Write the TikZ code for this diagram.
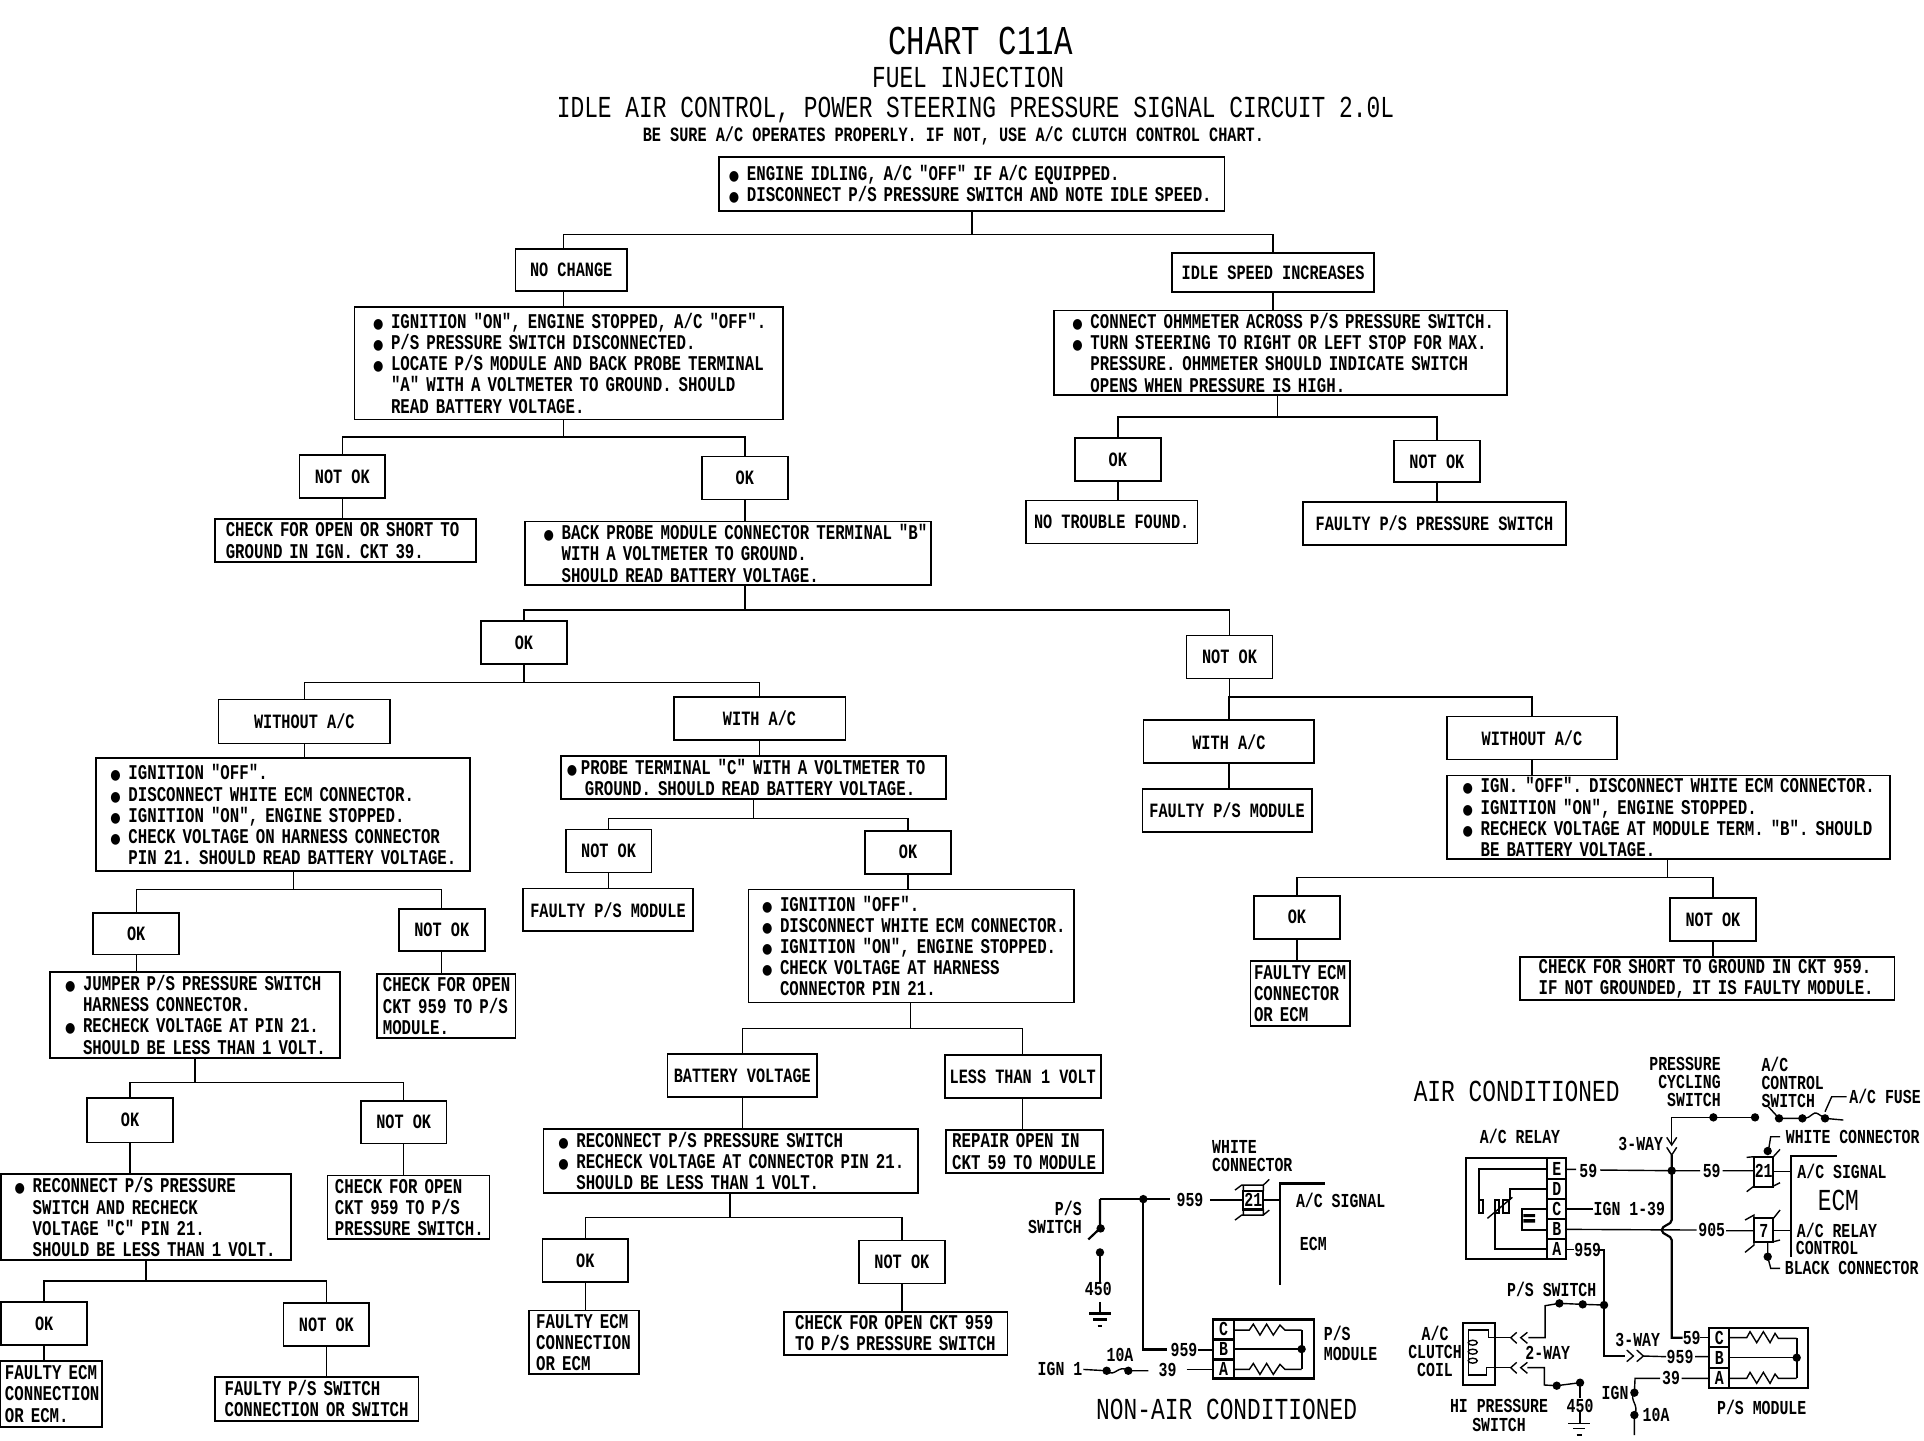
\documentclass[tikz,border=0pt]{standalone}
\usepackage{fontspec}
\setmainfont{Liberation Mono}
\newfontfamily\chartfont[FakeStretch=0.75]{Liberation Mono}
\newfontfamily\bulletfont[FakeStretch=0.85]{DejaVu Sans}
\newcommand{\bodyf}{\chartfont\bfseries\frenchspacing\fontsize{21}{21.2}\selectfont}
\newcommand{\shortf}{\chartfont\bfseries\frenchspacing\fontsize{20.3}{21.2}\selectfont}
\newcommand{\labf}{\chartfont\bfseries\frenchspacing\fontsize{19.8}{21.5}\selectfont}
\newcommand{\headf}{\chartfont\frenchspacing\fontsize{30.5}{32}\selectfont}
\newcommand{\bigf}{\chartfont\frenchspacing\fontsize{41}{44}\selectfont}
\newcommand{\cl}{\hspace*{18pt}}
\newcommand{\bu}{\makebox[18pt][l]{\bulletfont\fontsize{14}{14}\selectfont ●}}
\tikzset{
  chartbox/.style={draw=black,line width=1.7pt,rectangle,inner sep=0pt,font=\bodyf,align=left},
  centerbox/.style={draw=black,line width=1.7pt,rectangle,inner sep=0pt,font=\shortf,align=center},
  wire/.style={draw=black,line width=1.4pt},
  heavy/.style={draw=black,line width=2.2pt},
  lab/.style={inner sep=0pt,font=\labf,align=left},
  labc/.style={inner sep=0pt,font=\labf,align=center},
  labr/.style={inner sep=0pt,font=\labf,align=right},
  dot/.style={fill=black,draw=none}
}
\newcommand{\bx}[7]{%
  \pgfmathsetmacro\bw{(#4-#2)*1.227}%
  \pgfmathsetmacro\bh{(#5-#3)*1.227}%
  \pgfmathsetmacro\bs{(#6-#2)*1.227}%
  \node[chartbox,minimum width=\bw pt,minimum height=\bh pt,text width=\bw pt] (#1) at ({(#2+#4)/2},{(#3+#5)/2}) {\leftskip=\bs pt\relax #7\par};}
\newcommand{\cbx}[6]{%
  \pgfmathsetmacro\bw{(#4-#2)*1.227}%
  \pgfmathsetmacro\bh{(#5-#3)*1.227}%
  \node[centerbox,minimum width=\bw pt,minimum height=\bh pt] (#1) at ({(#2+#4)/2},{(#3+#5)/2}) {#6};}
\newcommand{\treelink}[5]{%
  \coordinate (j#1) at (#2,#3);
  \draw[wire] (#1.south -| j#1) -- (j#1);
  \draw[wire] (j#1) -| (#4.north);
  \draw[wire] (j#1) -| (#5.north);}
\newcommand{\droplink}[2]{\draw[wire] (#1.south) -- (#1.south |- #2.north);}
\newcounter{labn}
\newcommand{\lb}[4][lab]{\stepcounter{labn}\node[#1] (lab\arabic{labn}) at (#2,#3) {#4};}
\newcommand{\jdot}[2]{\fill[dot] (#1,#2) circle (4.2pt);}
\begin{document}
\begin{tikzpicture}[x=1.227pt,y=-1.227pt]
\useasboundingbox (0,0) rectangle (1568,1173.6);
\fill[white] (0,0) rectangle (1568,1173.6);
% titles
\node[inner sep=0pt,font=\bigf] (t1) at (799,33) {CHART C11A};
\node[inner sep=0pt,font=\headf] (t2) at (789,63) {FUEL INJECTION};
\node[inner sep=0pt,font=\headf] (t3) at (795,90) {IDLE AIR CONTROL, POWER STEERING PRESSURE SIGNAL CIRCUIT 2.0L};
\node[inner sep=0pt,font=\shortf] (t4) at (777,111) {BE SURE A/C OPERATES PROPERLY. IF NOT, USE A/C CLUTCH CONTROL CHART.};
% boxes
\bx{top}{586}{128}{998}{172}{594}{\bu ENGINE IDLING, A/C "OFF" IF A/C EQUIPPED.\\\bu DISCONNECT P/S PRESSURE SWITCH AND NOTE IDLE SPEED.}
\cbx{nochange}{420}{203}{511}{237}{NO CHANGE}
\cbx{idle}{955}{206}{1120}{238}{IDLE SPEED INCREASES}
\bx{ign1}{289}{250}{638}{342}{304}{\bu IGNITION "ON", ENGINE STOPPED, A/C "OFF".\\\bu P/S PRESSURE SWITCH DISCONNECTED.\\\bu LOCATE P/S MODULE AND BACK PROBE TERMINAL\\\cl"A" WITH A VOLTMETER TO GROUND. SHOULD\\\cl READ BATTERY VOLTAGE.}
\bx{ohm}{859}{253}{1228}{322}{874}{\bu CONNECT OHMMETER ACROSS P/S PRESSURE SWITCH.\\\bu TURN STEERING TO RIGHT OR LEFT STOP FOR MAX.\\\cl PRESSURE. OHMMETER SHOULD INDICATE SWITCH\\\cl OPENS WHEN PRESSURE IS HIGH.}
\cbx{n1}{244}{371}{314}{406}{NOT OK}
\cbx{o1}{572}{372}{642}{407}{OK}
\bx{chk1}{175}{423}{388}{458}{184}{CHECK FOR OPEN OR SHORT TO\\GROUND IN IGN. CKT 39.}
\bx{probeb}{428}{425}{759}{477}{443}{\bu BACK PROBE MODULE CONNECTOR TERMINAL "B"\\\cl WITH A VOLTMETER TO GROUND.\\\cl SHOULD READ BATTERY VOLTAGE.}
\cbx{o2}{876}{357}{946}{392}{OK}
\cbx{n2}{1136}{359}{1206}{393}{NOT OK}
\cbx{ntf}{836}{408}{976}{443}{NO TROUBLE FOUND.}
\cbx{fpss}{1062}{409}{1276}{444}{FAULTY P/S PRESSURE SWITCH}
\cbx{o3}{392}{506}{462}{541}{OK}
\cbx{n3}{967}{518}{1037}{553}{NOT OK}
\cbx{wo1}{178}{570}{318}{606}{WITHOUT A/C}
\cbx{w1}{549}{568}{689}{603}{WITH A/C}
\cbx{w2}{932}{587}{1071}{622}{WITH A/C}
\cbx{wo2}{1179}{584}{1318}{619}{WITHOUT A/C}
\bx{ign2}{78}{618}{383}{710}{90}{\bu IGNITION "OFF".\\\bu DISCONNECT WHITE ECM CONNECTOR.\\\bu IGNITION "ON", ENGINE STOPPED.\\\bu CHECK VOLTAGE ON HARNESS CONNECTOR\\\cl PIN 21. SHOULD READ BATTERY VOLTAGE.}
\bx{probec}{457}{616}{771}{651}{462}{\makebox[14pt][l]{\bulletfont\fontsize{14}{14}\selectfont ●}PROBE TERMINAL "C" WITH A VOLTMETER TO\\\cl GROUND. SHOULD READ BATTERY VOLTAGE.}
\cbx{fpm1}{931}{643}{1069}{678}{FAULTY P/S MODULE}
\bx{ign3}{1179}{632}{1540}{700}{1192}{\bu IGN. "OFF". DISCONNECT WHITE ECM CONNECTOR.\\\bu IGNITION "ON", ENGINE STOPPED.\\\bu RECHECK VOLTAGE AT MODULE TERM. "B". SHOULD\\\cl BE BATTERY VOLTAGE.}
\cbx{o4}{76}{744}{146}{778}{OK}
\cbx{n4}{325}{741}{395}{775}{NOT OK}
\bx{jump}{41}{792}{277}{862}{53}{\bu JUMPER P/S PRESSURE SWITCH\\\cl HARNESS CONNECTOR.\\\bu RECHECK VOLTAGE AT PIN 21.\\\cl SHOULD BE LESS THAN 1 VOLT.}
\bx{chk2}{307}{794}{420}{846}{312}{CHECK FOR OPEN\\CKT 959 TO P/S\\MODULE.}
\cbx{o5}{71}{895}{141}{931}{OK}
\cbx{n5}{294}{897}{364}{932}{NOT OK}
\bx{rec1}{1}{957}{237}{1027}{12}{\bu RECONNECT P/S PRESSURE\\\cl SWITCH AND RECHECK\\\cl VOLTAGE "C" PIN 21.\\\cl SHOULD BE LESS THAN 1 VOLT.}
\bx{chk3}{267}{958}{399}{1010}{273}{CHECK FOR OPEN\\CKT 959 TO P/S\\PRESSURE SWITCH.}
\cbx{o6}{1}{1061}{71}{1096}{OK}
\cbx{n6}{231}{1062}{301}{1097}{NOT OK}
\bx{fec1}{0}{1109}{83}{1163}{4}{FAULTY ECM\\CONNECTION\\OR ECM.}
\bx{fpsw}{175}{1122}{341}{1158}{183}{FAULTY P/S SWITCH\\CONNECTION OR SWITCH}
\cbx{n7}{461}{676}{531}{711}{NOT OK}
\cbx{o7}{705}{677}{775}{712}{OK}
\cbx{fpm2}{426}{724}{565}{759}{FAULTY P/S MODULE}
\bx{ign4}{610}{725}{875}{817}{621}{\bu IGNITION "OFF".\\\bu DISCONNECT WHITE ECM CONNECTOR.\\\bu IGNITION "ON", ENGINE STOPPED.\\\bu CHECK VOLTAGE AT HARNESS\\\cl CONNECTOR PIN 21.}
\cbx{bat}{544}{859}{666}{894}{BATTERY VOLTAGE}
\cbx{less}{770}{860}{897}{895}{LESS THAN 1 VOLT}
\bx{rec2}{443}{920}{748}{972}{455}{\bu RECONNECT P/S PRESSURE SWITCH\\\bu RECHECK VOLTAGE AT CONNECTOR PIN 21.\\\cl SHOULD BE LESS THAN 1 VOLT.}
\bx{rep}{771}{921}{899}{956}{776}{REPAIR OPEN IN\\CKT 59 TO MODULE}
\cbx{o8}{442}{1010}{512}{1045}{OK}
\cbx{n8}{700}{1011}{770}{1046}{NOT OK}
\bx{fec2}{431}{1068}{521}{1120}{437}{FAULTY ECM\\CONNECTION\\OR ECM}
\bx{chk4}{639}{1069}{821}{1104}{648}{CHECK FOR OPEN CKT 959\\TO P/S PRESSURE SWITCH}
\cbx{o9}{1022}{730}{1092}{765}{OK}
\cbx{n9}{1361}{732}{1431}{767}{NOT OK}
\bx{fec3}{1019}{783}{1100}{836}{1022}{FAULTY ECM\\CONNECTOR\\OR ECM}
\bx{chk5}{1239}{780}{1544}{815}{1254}{CHECK FOR SHORT TO GROUND IN CKT 959.\\IF NOT GROUNDED, IT IS FAULTY MODULE.}
% connectors
\coordinate (jtop) at (792,191);
\coordinate (ntop) at (459,203);
\draw[wire] (top.south -| jtop) -- (jtop);
\draw[wire] (jtop) -| (ntop);
\draw[wire] (jtop) -| (idle.north);
\draw[wire] (nochange.south -| ntop) -- (ign1.north -| ntop);
\droplink{idle}{ohm}
\treelink{ign1}{459}{356}{n1}{o1}
\droplink{n1}{chk1}
\droplink{o1}{probeb}
\treelink{ohm}{1041}{340}{o2}{n2}
\droplink{o2}{ntf}
\droplink{n2}{fpss}
\treelink{probeb}{607}{497}{o3}{n3}
\treelink{o3}{427}{556}{wo1}{w1}
\treelink{n3}{1002}{568}{w2}{wo2}
\droplink{wo1}{ign2}
\droplink{w1}{probec}
\droplink{w2}{fpm1}
\droplink{wo2}{ign3}
\treelink{ign2}{239}{725}{o4}{n4}
\droplink{o4}{jump}
\droplink{n4}{chk2}
\treelink{jump}{159}{882}{o5}{n5}
\droplink{o5}{rec1}
\droplink{n5}{chk3}
\treelink{rec1}{119}{1044}{o6}{n6}
\droplink{o6}{fec1}
\droplink{n6}{fpsw}
\treelink{probec}{614}{667}{n7}{o7}
\droplink{n7}{fpm2}
\droplink{o7}{ign4}
\treelink{ign4}{742}{838}{bat}{less}
\droplink{bat}{rec2}
\droplink{less}{rep}
\treelink{rec2}{595}{992}{o8}{n8}
\droplink{o8}{fec2}
\droplink{n8}{chk4}
\treelink{ign3}{1359}{715}{o9}{n9}
\droplink{o9}{fec3}
\droplink{n9}{chk5}
% ---------- AIR CONDITIONED schematic (zoom coords)
\begin{scope}[shift={(1141,847.6)},x=0.3333pt,y=-0.3333pt]
\node[inner sep=0pt,font=\headf] (aircon) at (350,155) {AIR CONDITIONED};
\lb[labr]{855}{127}{PRESSURE\\[-3.5pt]CYCLING\\[-3.5pt]SWITCH}
\lb[lab]{1178}{127}{A/C\\[-3.5pt]CONTROL\\[-3.5pt]SWITCH}
\lb[lab]{1455}{168}{A/C FUSE}
\lb[labc]{360}{290}{A/C RELAY}
\lb[labc]{722}{312}{3-WAY}
\lb[lab]{1358}{290}{WHITE CONNECTOR}
\lb[labc]{565}{392}{59}
\lb[labc]{935}{392}{59}
\lb[labc]{688}{508}{IGN 1-39}
\lb[labc]{935}{570}{905}
\lb[labc]{563}{630}{959}
\lb[labc]{1326}{395}{A/C SIGNAL}
\node[inner sep=0pt,font=\headf] (ecma) at (1315,480) {ECM};
\lb[labc]{1311}{572}{A/C RELAY}
\lb[labc]{1281}{625}{CONTROL}
\lb[labc]{1355}{685}{BLACK CONNECTOR}
\lb[labc]{455}{747}{P/S SWITCH}
\lb[labc]{105}{935}{A/C\\[-3.5pt]CLUTCH\\[-3.5pt]COIL}
\lb[labc]{443}{938}{2-WAY}
\lb[labc]{713}{900}{3-WAY}
\lb[labc]{875}{893}{59}
\lb[labc]{840}{950}{959}
\lb[labc]{813}{1015}{39}
\lb[labc]{645}{1058}{IGN}
\lb[labc]{768}{1125}{10A}
\lb[labc]{297}{1127}{HI PRESSURE\\[-2pt]SWITCH}
\lb[labc]{540}{1097}{450}
\lb[labc]{1085}{1103}{P/S MODULE}
% relay
\draw[heavy] (197,355) rectangle (498,657);
\draw[heavy] (442,355) -- (442,657) (442,418) -- (498,418) (442,478) -- (498,478) (442,538) -- (498,538) (442,598) -- (498,598);
\lb[labc]{470}{388}{E}\lb[labc]{470}{447}{D}\lb[labc]{470}{507}{C}\lb[labc]{470}{568}{B}\lb[labc]{470}{628}{A}
\draw[heavy] (442,388) -- (237,388) -- (237,518) -- (250,518) -- (250,480) -- (237,480);
\draw[heavy] (442,447) -- (330,447) -- (330,480) (310,480) rectangle (328,518);
\draw[heavy] (442,628) -- (285,628) -- (285,480) -- (298,480) -- (298,518) -- (285,518);
\draw[wire] (262,535) -- (337,472);
\draw[heavy] (442,507) -- (365,507) -- (365,570) -- (442,570);
\fill[dot] (370,522) rectangle (405,531) (370,537) rectangle (405,548);
% wires
\draw[wire] (498,388) -- (528,388) (600,390) -- (815,392) -- (900,392) (968,392) -- (1062,392);
\fill[dot] (815,392) circle (4.2pt);
\draw[heavy] (815,345) -- (815,540) .. controls (815,555) and (785,555) .. (785,570) .. controls (785,585) and (815,585) .. (815,600) -- (815,893) -- (848,893);
\draw[wire] (900,893) -- (928,893);
\draw[wire] (498,568) -- (890,570) (978,572) -- (1062,572);
\draw[wire] (498,507) -- (580,507);
\draw[wire] (800,292) -- (815,315) -- (830,292) (800,322) -- (815,345) -- (830,322);
\draw[wire] (815,312) -- (815,232) -- (1065,232);
\jdot{940}{232}\jdot{1065}{232}
\draw[wire] (1105,200) -- (1137,235) -- (1207,235) .. controls (1240,235) and (1235,210) .. (1255,222) -- (1275,235) -- (1330,240);
\jdot{1137}{235}\jdot{1207}{235}\jdot{1275}{235}
\draw[wire] (1340,170) -- (1295,170) -- (1275,215);
% connectors
\draw[heavy] (1062,350) rectangle (1120,440);
\lb[labc]{1091}{392}{21}
\draw[wire] (1040,352) -- (1062,350) (1120,350) -- (1140,328) (1040,455) -- (1062,438) (1120,438) -- (1140,428);
\draw[heavy] (1062,535) rectangle (1120,605);
\lb[labc]{1091}{572}{7}
\draw[wire] (1035,540) -- (1062,525) -- (1062,535) (1120,535) -- (1140,510) (1035,637) -- (1062,615) -- (1062,605) (1120,605) -- (1140,600);
\draw[wire] (1140,290) -- (1112,290) -- (1103,345);
\fill[dot] (1103,333) circle (4.2pt);
\draw[wire] (1140,685) -- (1112,685) -- (1103,650) -- (1103,605);
\jdot{1103}{650}
\draw[heavy] (1310,348) -- (1172,348) -- (1172,650);
\draw[wire] (1120,395) -- (1172,395) (1120,572) -- (1172,572);
% 959 riser
\draw[wire] (498,628) -- (522,628);
\draw[heavy] (600,630) -- (612,630) -- (612,948) -- (675,948);
\jdot{612}{795}
\draw[wire] (680,930) -- (700,948) -- (680,965) (710,930) -- (730,948) -- (710,965);
\draw[wire] (730,948) -- (798,950) (885,950) -- (928,950);
\draw[wire] (612,795) -- (548,793) -- (478,790) -- (435,797) -- (435,893) -- (385,893);
\jdot{548}{793}\jdot{478}{790}
\draw[wire] (350,877) -- (332,893) -- (350,910) (382,877) -- (362,893) -- (382,910);
\draw[wire] (350,967) -- (332,983) -- (350,1000) (382,967) -- (362,983) -- (382,1000);
\draw[wire] (332,893) -- (265,893) -- (265,870) -- (205,870) -- (205,1005) -- (260,1005) -- (260,983) -- (332,983);
\draw[heavy] (190,848) rectangle (285,1035);
\draw[wire] (218,908) ellipse (4.5pt and 2.5pt) (218,935) ellipse (4.5pt and 2.5pt) (218,962) ellipse (4.5pt and 2.5pt);
\draw[wire] (382,983) -- (433,983) -- (433,1035) -- (470,1037) -- (540,1028);
\jdot{470}{1037}\jdot{540}{1028}
\draw[wire] (540,1028) -- (540,1075) (540,1115) -- (540,1150);
\draw[wire] (505,1150) -- (570,1150) (520,1165) -- (555,1165) (530,1185) -- (545,1185);
% module
\draw[heavy] (928,863) rectangle (1225,1045);
\draw[heavy] (987,863) -- (987,1045) (928,922) -- (987,922) (928,985) -- (987,985);
\lb[labc]{958}{893}{C}\lb[labc]{958}{953}{B}\lb[labc]{958}{1015}{A}
\draw[wire] (987,893) -- (1040,893) -- (1050,875) -- (1070,908) -- (1090,875) -- (1110,908) -- (1125,880) -- (1135,895) -- (1190,895);
\draw[wire] (987,1015) -- (1040,1015) -- (1050,997) -- (1070,1030) -- (1090,997) -- (1110,1030) -- (1125,1002) -- (1135,1015) -- (1190,1015);
\draw[heavy] (1190,895) -- (1190,1015);
\draw[wire] (987,953) -- (1190,953);
\jdot{1190}{953}
\draw[wire] (928,1015) -- (845,1015) (780,1015) -- (705,1015) -- (703,1058) .. controls (685,1080) and (720,1095) .. (703,1125) -- (703,1185);
\jdot{703}{1058}\jdot{703}{1125}
\end{scope}
% ---------- NON-AIR CONDITIONED schematic
\begin{scope}[shift={(823.1,921)},x=0.3333pt,y=-0.3333pt]
\lb[lab]{727}{77}{WHITE\\[-3.5pt]CONNECTOR}
\lb[labr]{135}{262}{P/S\\[-3pt]SWITCH}
\lb[labc]{540}{210}{959}
\lb[labc]{730}{208}{21}
\lb[labc]{992}{210}{A/C SIGNAL}
\lb[labc]{910}{343}{ECM}
\lb[labc]{265}{478}{450}
\lb[labc]{522}{660}{959}
\lb[lab]{1022}{640}{P/S\\[-2pt]MODULE}
\lb[labc]{330}{675}{10A}
\lb[labc]{150}{718}{IGN 1}
\lb[labc]{473}{720}{39}
\node[inner sep=0pt,font=\headf] (nonair) at (650,838) {NON-AIR CONDITIONED};
\draw[wire] (480,207) -- (270,207);
\draw[heavy] (270,207) -- (270,295) -- (235,328);
\jdot{272}{295}\jdot{400}{207}
\draw[wire] (600,210) -- (700,210) (760,210) -- (810,210);
\draw[heavy] (700,183) rectangle (760,238);
\draw[wire] (675,180) -- (695,165) -- (760,165) -- (778,148) (675,270) -- (695,255) -- (760,255) -- (778,240) (700,165) -- (700,183) (760,165) -- (760,183) (700,238) -- (700,255) (760,238) -- (760,255);
\draw[heavy] (945,160) -- (810,160) -- (810,465);
\jdot{270}{367}
\draw[wire] (270,367) -- (270,455);
\draw[heavy] (270,515) -- (270,550);
\draw[heavy] (238,550) -- (302,550) (250,568) -- (290,568) (263,588) -- (275,588);
\draw[heavy] (400,207) -- (400,658) -- (470,658);
\draw[wire] (565,660) -- (610,660);
\draw[heavy] (610,568) rectangle (912,745);
\draw[heavy] (672,568) -- (672,745) (610,628) -- (672,628) (610,688) -- (672,688);
\lb[labc]{641}{598}{C}\lb[labc]{641}{658}{B}\lb[labc]{641}{718}{A}
\draw[wire] (672,600) -- (718,600) -- (730,582) -- (750,615) -- (770,582) -- (790,615) -- (810,585) -- (825,600) -- (875,600);
\draw[wire] (672,718) -- (718,718) -- (730,700) -- (750,733) -- (770,700) -- (790,733) -- (810,703) -- (825,718) -- (875,718);
\draw[heavy] (875,600) -- (875,718);
\draw[wire] (672,657) -- (875,657);
\jdot{875}{657}
\draw[wire] (530,718) -- (610,718);
\draw[wire] (220,718) -- (290,722) .. controls (315,745) and (325,700) .. (355,722) -- (415,722);
\jdot{290}{722}\jdot{355}{722}
\end{scope}
\end{tikzpicture}
\end{document}
